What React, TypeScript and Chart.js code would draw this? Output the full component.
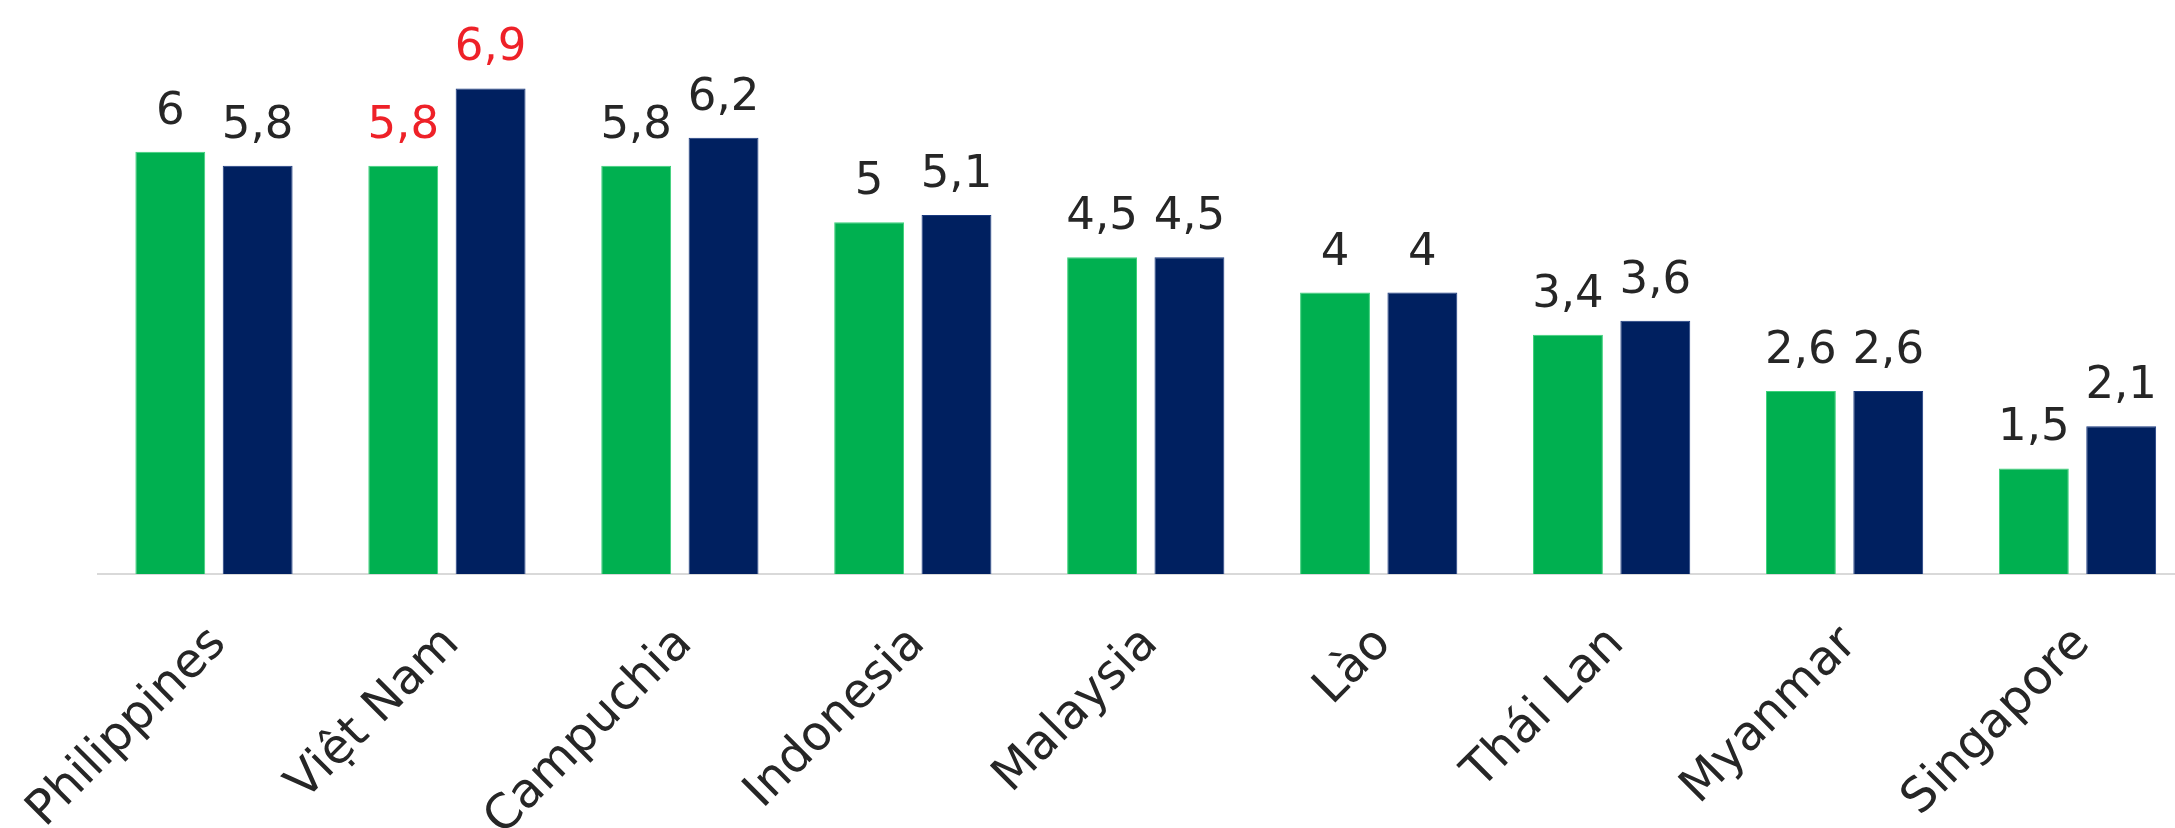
import React, { useEffect, useRef } from "react";
import { Chart, registerables } from "chart.js";

Chart.register(...registerables);

const categories = [
  "Philippines",
  "Việt Nam",
  "Campuchia",
  "Indonesia",
  "Malaysia",
  "Lào",
  "Thái Lan",
  "Myanmar",
  "Singapore",
];
const seriesGreen = [6, 5.8, 5.8, 5, 4.5, 4, 3.4, 2.6, 1.5];
const seriesBlue = [5.8, 6.9, 6.2, 5.1, 4.5, 4, 3.6, 2.6, 2.1];
const highlightCategory = "Việt Nam";

const GREEN = "#00B050";
const NAVY = "#002060";
const RED = "#EE2128";
const TEXT = "#262626";
const FONT = "'DejaVu Sans', Verdana, sans-serif";

const fmt = (v: number) => String(v).replace(".", ",");

const valueLabels = {
  id: "valueLabels",
  afterDatasetsDraw(chart: any) {
    const ctx = chart.ctx;
    ctx.save();
    ctx.font = `45px ${FONT}`;
    ctx.textAlign = "center";
    ctx.textBaseline = "alphabetic";
    chart.data.datasets.forEach((ds: any, di: number) => {
      const meta = chart.getDatasetMeta(di);
      meta.data.forEach((el: any, i: number) => {
        ctx.fillStyle = categories[i] === highlightCategory ? RED : TEXT;
        ctx.fillText(fmt(ds.data[i]), el.x, el.y - 28);
      });
    });
    ctx.restore();
  },
};

export default function App() {
  const ref = useRef<HTMLCanvasElement | null>(null);

  useEffect(() => {
    if (!ref.current) return;
    const chart = new Chart(ref.current, {
      type: "bar",
      data: {
        labels: categories,
        datasets: [
          {
            label: "Series 1",
            data: seriesGreen,
            backgroundColor: GREEN,
            borderColor: "#3CD27A",
            borderWidth: 1,
            categoryPercentage: 0.75,
            barPercentage: 0.8,
          },
          {
            label: "Series 2",
            data: seriesBlue,
            backgroundColor: NAVY,
            borderColor: "#1A3A80",
            borderWidth: 1,
            categoryPercentage: 0.75,
            barPercentage: 0.8,
          },
        ],
      },
      options: {
        responsive: false,
        animation: false,
        layout: { padding: { left: 97.5, right: 6, top: 11, bottom: 0 } },
        plugins: {
          legend: { display: false },
          tooltip: { enabled: false },
        },
        scales: {
          x: {
            grid: { display: false, drawTicks: false },
            border: { display: true, color: "#D9D9D9", width: 2 },
            ticks: {
              autoSkip: false,
              minRotation: 45,
              maxRotation: 45,
              padding: 42,
              labelOffset: 5,
              color: TEXT,
              font: { family: FONT, size: 48 },
            },
            afterFit: (scale: any) => {
              scale.height = 254;
              scale.paddingLeft = 0;
              scale.paddingRight = 0;
            },
          },
          y: {
            display: false,
            min: 0,
            max: 8,
          },
        },
      },
      plugins: [valueLabels],
    });
    return () => chart.destroy();
  }, []);

  return (
    <div
      style={{
        position: "absolute",
        left: 0,
        top: 0,
        width: 2175,
        height: 828,
        overflow: "hidden",
        background: "#fff",
      }}
    >
      <canvas
        ref={ref}
        width={2200}
        height={828}
        style={{ width: 2200, height: 828, display: "block" }}
      />
    </div>
  );
}
